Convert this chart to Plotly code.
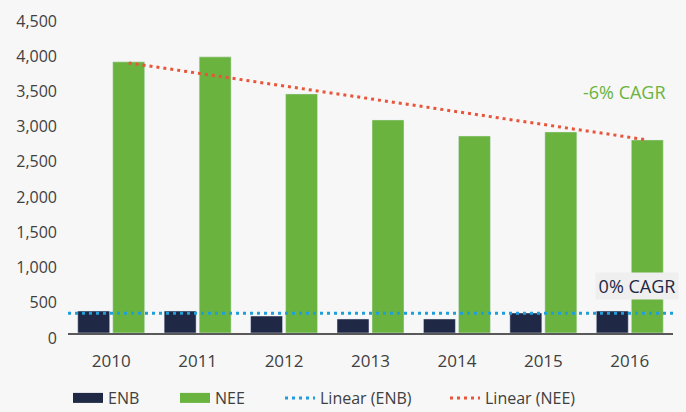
import plotly.graph_objects as go

years = [2010, 2011, 2012, 2013, 2014, 2015, 2016]
enb = [312, 312, 241, 199, 199, 284, 312]
nee = [3849, 3920, 3394, 3025, 2797, 2854, 2741]
enb_trend = [280, 280]
nee_trend_years = [2010, 2016]
nee_trend = [3834, 2741]

C_ENB = "#1f2845"
C_NEE = "#69b33e"
C_ENB_T = "#1f9ed9"
C_NEE_T = "#e8553a"
BG = "#f7f7f7"
FONT = "Open Sans"
TXT = "#404040"

BARGAP = 0.19
half_group = (1 - BARGAP) / 4  # offset of each bar centre from category centre

fig = go.Figure()
fig.add_trace(go.Bar(x=years, y=enb, name="ENB", marker_color=C_ENB,
                     showlegend=False, legendgroup="enb"))
fig.add_trace(go.Bar(x=years, y=nee, name="NEE", marker_color=C_NEE,
                     showlegend=False, legendgroup="nee"))
# legend swatches
fig.add_trace(go.Scatter(x=[None], y=[None], mode="lines", name="ENB",
                         line=dict(color=C_ENB, width=13), legendgroup="enb",
                         legend="legend"))
fig.add_trace(go.Scatter(x=[None], y=[None], mode="lines", name="NEE",
                         line=dict(color=C_NEE, width=13), legendgroup="nee",
                         legend="legend2"))
# trend lines
fig.add_trace(go.Scatter(x=[years[0] - 0.5, years[-1] + 0.5], y=enb_trend, mode="lines",
                         name="Linear (ENB)", legend="legend3",
                         line=dict(color=C_ENB_T, width=3, dash="3px,4px")))
fig.add_trace(go.Scatter(x=[v + half_group for v in nee_trend_years], y=nee_trend,
                         mode="lines", name="Linear (NEE)", legend="legend4",
                         line=dict(color=C_NEE_T, width=3, dash="3px,4px")))

fig.add_annotation(xref="paper", yref="paper", x=0.920, y=0.760, text="-6% CAGR",
                   xanchor="center", yanchor="middle",
                   showarrow=False, font=dict(family=FONT, size=18, color=C_NEE))
fig.add_annotation(xref="paper", yref="paper", x=0.940, y=0.1467, text="0% CAGR",
                   xanchor="center", yanchor="middle",
                   showarrow=False, font=dict(family=FONT, size=18, color=C_ENB),
                   bgcolor="#efefef", borderpad=0, width=82, height=26)


def leg(px):
    return dict(orientation="h", xref="container", yref="container",
                x=px / 686, xanchor="left", y=1 - 398 / 412, yanchor="middle",
                font=dict(family=FONT, size=16, color=TXT),
                bgcolor="rgba(0,0,0,0)", borderwidth=0)


fig.update_layout(
    width=686, height=412,
    margin=dict(l=68, r=13, t=16, b=79),
    paper_bgcolor=BG, plot_bgcolor=BG,
    barmode="group", bargap=BARGAP, bargroupgap=0.086,
    font=dict(family=FONT, color=TXT),
    legend=leg(68), legend2=leg(175), legend3=leg(280), legend4=leg(445),
    xaxis=dict(range=[2009.5, 2016.5], tickvals=years, ticktext=[str(y) for y in years],
               showgrid=False, zeroline=False, showline=True, linecolor="#595959",
               linewidth=1.5, ticks="", tickfont=dict(size=17, color=TXT),
               ticklabelstandoff=12, automargin=False),
    yaxis=dict(range=[0, 4500], tickvals=list(range(0, 4501, 500)), tickformat=",d",
               showgrid=False, zeroline=False, showline=False, ticks="",
               tickfont=dict(size=16, color=TXT), ticklabelstandoff=10,
               ticklabelshift=5, automargin=False),
)

fig.write_html("out.html", config={"displayModeBar": False},
               post_script="document.body.style.margin='0';"
                           "document.body.style.background='#f7f7f7';")
